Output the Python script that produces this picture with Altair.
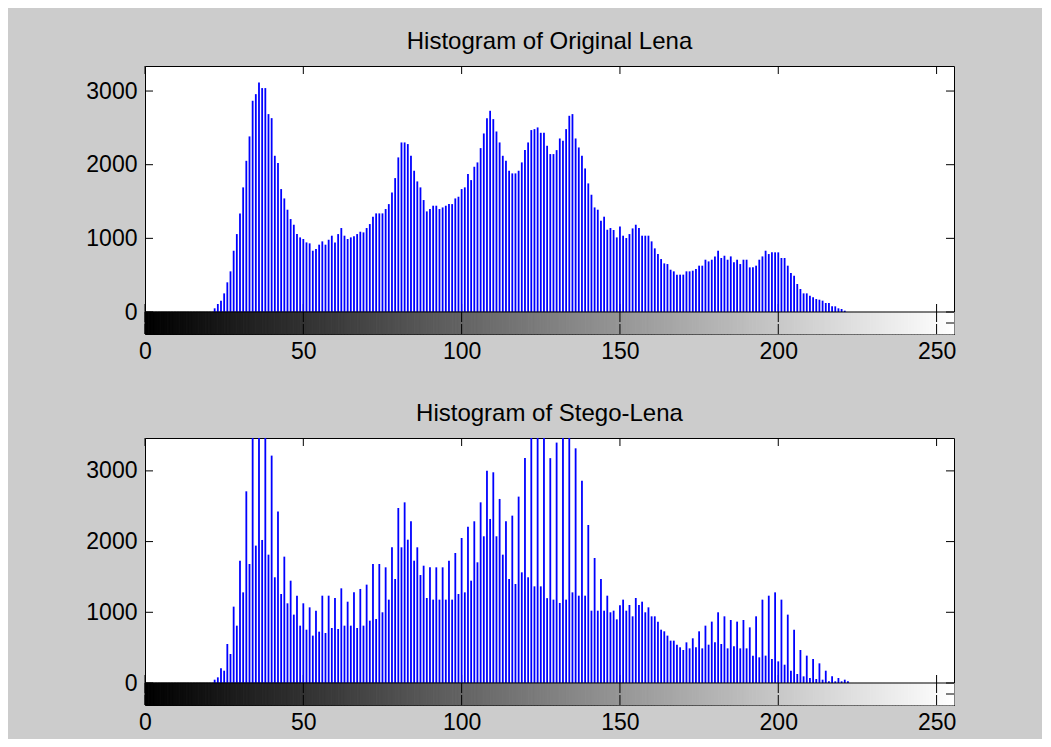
import altair as alt
import pandas as pd

# ---------------- data ----------------
N_BINS = 256
titles = ["Histogram of Original Lena", "Histogram of Stego-Lena"]

orig_start = 22
orig_counts = [
    50, 109, 154, 253, 403, 552, 832, 1058,
    1339, 1692, 2053, 2384, 2868, 2958, 3116, 3040, 3040, 2687,
    2632, 2121, 2022, 1669, 1542, 1389, 1262, 1185, 1058, 1013,
    991, 945, 932, 832, 855, 914, 959, 914, 981, 1036,
    945, 1058, 1140, 1036, 991, 1013, 1027, 1058, 1090, 1081,
    1140, 1194, 1294, 1339, 1339, 1339, 1398, 1465, 1624, 1818,
    2099, 2302, 2302, 2280, 2121, 1918, 1773, 1692, 1520, 1366,
    1398, 1443, 1443, 1398, 1420, 1443, 1465, 1465, 1542, 1565,
    1669, 1692, 1873, 1791, 1972, 2031, 2225, 2424, 2632, 2732,
    2619, 2451, 2302, 2121, 2053, 1918, 1882, 1882, 1918, 2031,
    2198, 2302, 2470, 2483, 2506, 2433, 2433, 2257, 2144, 2144,
    2198, 2356, 2325, 2483, 2664, 2687, 2356, 2234, 2121, 1949,
    1746, 1592, 1420, 1389, 1239, 1294, 1117, 1140, 1113, 1013,
    1162, 1036, 1004, 1058, 1135, 1185, 1140, 1036, 1036, 1036,
    959, 864, 787, 719, 660, 651, 574, 552, 507, 507,
    507, 552, 552, 561, 583, 629, 629, 710, 687, 710,
    755, 832, 733, 764, 710, 755, 674, 710, 651, 710,
    710, 606, 606, 629, 710, 755, 832, 787, 810, 810,
    810, 733, 733, 629, 529, 493, 380, 312, 253, 253,
    222, 199, 176, 167, 154, 122, 122, 77, 77, 50, 41, 18,
]

stego_start = 22
stego_counts = [
    47, 80, 207, 174, 552, 410, 1080, 811,
    1730, 1282, 2711, 1683, 3700, 1943, 4200, 2023, 3600, 1815,
    3216, 1495, 2424, 1259, 1787, 1127, 1447, 967, 1235, 811,
    1127, 754, 1070, 670, 1023, 726, 1235, 707, 1235, 778,
    1202, 764, 1339, 811, 1150, 811, 1282, 778, 1330, 811,
    1391, 882, 1683, 905, 1683, 1000, 1636, 1179, 1919, 1471,
    2475, 1919, 2555, 2027, 2287, 1730, 1919, 1527, 1659, 1202,
    1636, 1179, 1636, 1179, 1636, 1179, 1730, 1179, 1839, 1259,
    2051, 1282, 2211, 1447, 2287, 1707, 2555, 2075, 3003, 2320,
    2980, 2075, 2603, 1815, 2287, 1471, 2367, 1400, 2636, 1565,
    3183, 1495, 3600, 1367, 3600, 1367, 3600, 1200, 3180, 1179,
    3400, 1132, 3600, 1179, 3600, 1282, 3319, 1235, 2862, 1235,
    2235, 1023, 1768, 1023, 1470, 1023, 1235, 1000, 1023, 900,
    1100, 1179, 1023, 1103, 943, 1202, 1103, 1150, 1000, 1070,
    943, 943, 868, 754, 731, 670, 599, 599, 542, 505,
    467, 575, 490, 632, 505, 731, 490, 811, 542, 868,
    575, 1000, 552, 943, 490, 891, 519, 868, 490, 891,
    490, 787, 387, 943, 363, 1179, 387, 1235, 339, 1282,
    306, 1179, 259, 967, 174, 754, 127, 467, 94, 387,
    71, 339, 57, 278, 47, 174, 24, 94, 24, 71, 24, 47, 24,
]

x_tick_values = [0, 50, 100, 150, 200, 250]
y_tick_values = [0, 1000, 2000, 3000]
y_max_values = [3340, 3465]

# ---------------- layout / style ----------------
W = 809
X_MAX = 255.5
HEIGHTS = [268, 267]
CB_PX = 22
TICK_PX = 8
CB_TICK_PX = 10
FONT = "Liberation Sans"
FS = 23
TFS = 24
BLUE = "#0000ff"


def expand(start, vals):
    c = [0] * N_BINS
    for i, v in enumerate(vals):
        c[start + i] = v
    return c


def panel(title, counts, ymax, H):
    upp = ymax / (H - CB_PX)          # data units per pixel
    cb = CB_PX * upp
    tl = TICK_PX * upp
    ctl = CB_TICK_PX * upp

    xs = alt.Scale(domain=[0, X_MAX], nice=False, zero=False)
    ys = alt.Scale(domain=[-cb, ymax], nice=False, zero=False)
    xaxis = alt.Axis(values=x_tick_values, ticks=False, domain=False, grid=False,
                     labelFontSize=FS, labelFont=FONT, labelColor="black",
                     labelPadding=6, title=None, labelFlush=False)
    yaxis = alt.Axis(values=y_tick_values, ticks=False, domain=False, grid=False,
                     labelFontSize=FS, labelFont=FONT, labelColor="black",
                     labelPadding=8, title=None, format="d")

    hist = pd.DataFrame({"bin": list(range(N_BINS)), "count": counts})
    hist = hist[hist["count"] > 0].copy()
    hist["zero"] = 0

    cbar = pd.DataFrame({"bin": list(range(N_BINS))})
    cbar["bin2"] = [min(b + 1, X_MAX) for b in range(N_BINS)]
    cbar["c"] = [f"#{b:02x}{b:02x}{b:02x}" for b in range(N_BINS)]
    cbar["top"] = 0.0
    cbar["bot"] = -cb

    xt = pd.DataFrame({"x": x_tick_values})
    xt["zero"] = 0.0
    xt["up"] = tl
    xt["cbt0"] = -ctl
    xt["cbb"] = -cb
    xt["cbb1"] = -cb + ctl

    yt = pd.DataFrame({"y": y_tick_values})
    border = pd.DataFrame({"x0": [0.0], "x1": [X_MAX], "y": [0.0], "ym": [-cb / 2]})

    X = lambda f: alt.X(f, type="quantitative", scale=xs, axis=xaxis)
    Y = lambda f: alt.Y(f, type="quantitative", scale=ys, axis=yaxis)

    layers = [
        alt.Chart(cbar).mark_rect(strokeWidth=1).encode(
            x=X("bin"), x2="bin2", y=Y("bot"), y2="top",
            color=alt.Color("c:N", scale=None),
            stroke=alt.Stroke("c:N", scale=None)),
        alt.Chart(xt).mark_rule(color="black", strokeWidth=1).encode(
            x=X("x"), y=Y("zero"), y2="up"),
        alt.Chart(hist).mark_rule(color=BLUE, strokeWidth=1.8, clip=True).encode(
            x=X("bin"), y=Y("count"), y2="zero"),
        alt.Chart(border).mark_rule(color="black", strokeWidth=1).encode(
            x=X("x0"), x2="x1", y=Y("y")),
        alt.Chart(xt).mark_rule(color="black", strokeWidth=1).encode(
            x=X("x"), y=Y("zero"), y2="cbt0"),
        alt.Chart(xt).mark_rule(color="black", strokeWidth=1).encode(
            x=X("x"), y=Y("cbb"), y2="cbb1"),
        alt.Chart(xt).mark_rule(color="black", strokeWidth=1).encode(
            x=X("x"), y=alt.value(0), y2=alt.value(TICK_PX)),
        alt.Chart(yt).mark_rule(color="black", strokeWidth=1).encode(
            y=Y("y"), x=alt.value(0), x2=alt.value(TICK_PX)),
        alt.Chart(yt).mark_rule(color="black", strokeWidth=1).encode(
            y=Y("y"), x=alt.value(W), x2=alt.value(W - TICK_PX)),
        alt.Chart(border).mark_rule(color="black", strokeWidth=1).encode(
            y=Y("ym"), x=alt.value(W), x2=alt.value(W - TICK_PX)),
    ]
    return alt.layer(*layers).properties(
        width=W, height=H,
        title=alt.TitleParams(title, fontSize=TFS, font=FONT, fontWeight="normal",
                              color="black", offset=12, anchor="middle"),
    )


top = panel(titles[0], expand(orig_start, orig_counts), y_max_values[0], HEIGHTS[0])
bottom = panel(titles[1], expand(stego_start, stego_counts), y_max_values[1], HEIGHTS[1])

chart = alt.vconcat(top, bottom, spacing=37).properties(
    background="#cccccc",
    padding={"left": 77, "top": 21, "right": 85, "bottom": 4},
).configure_view(stroke="black", strokeWidth=1, fill="white")

chart.save("out.html", embed_options={"renderer": "svg", "actions": False})
